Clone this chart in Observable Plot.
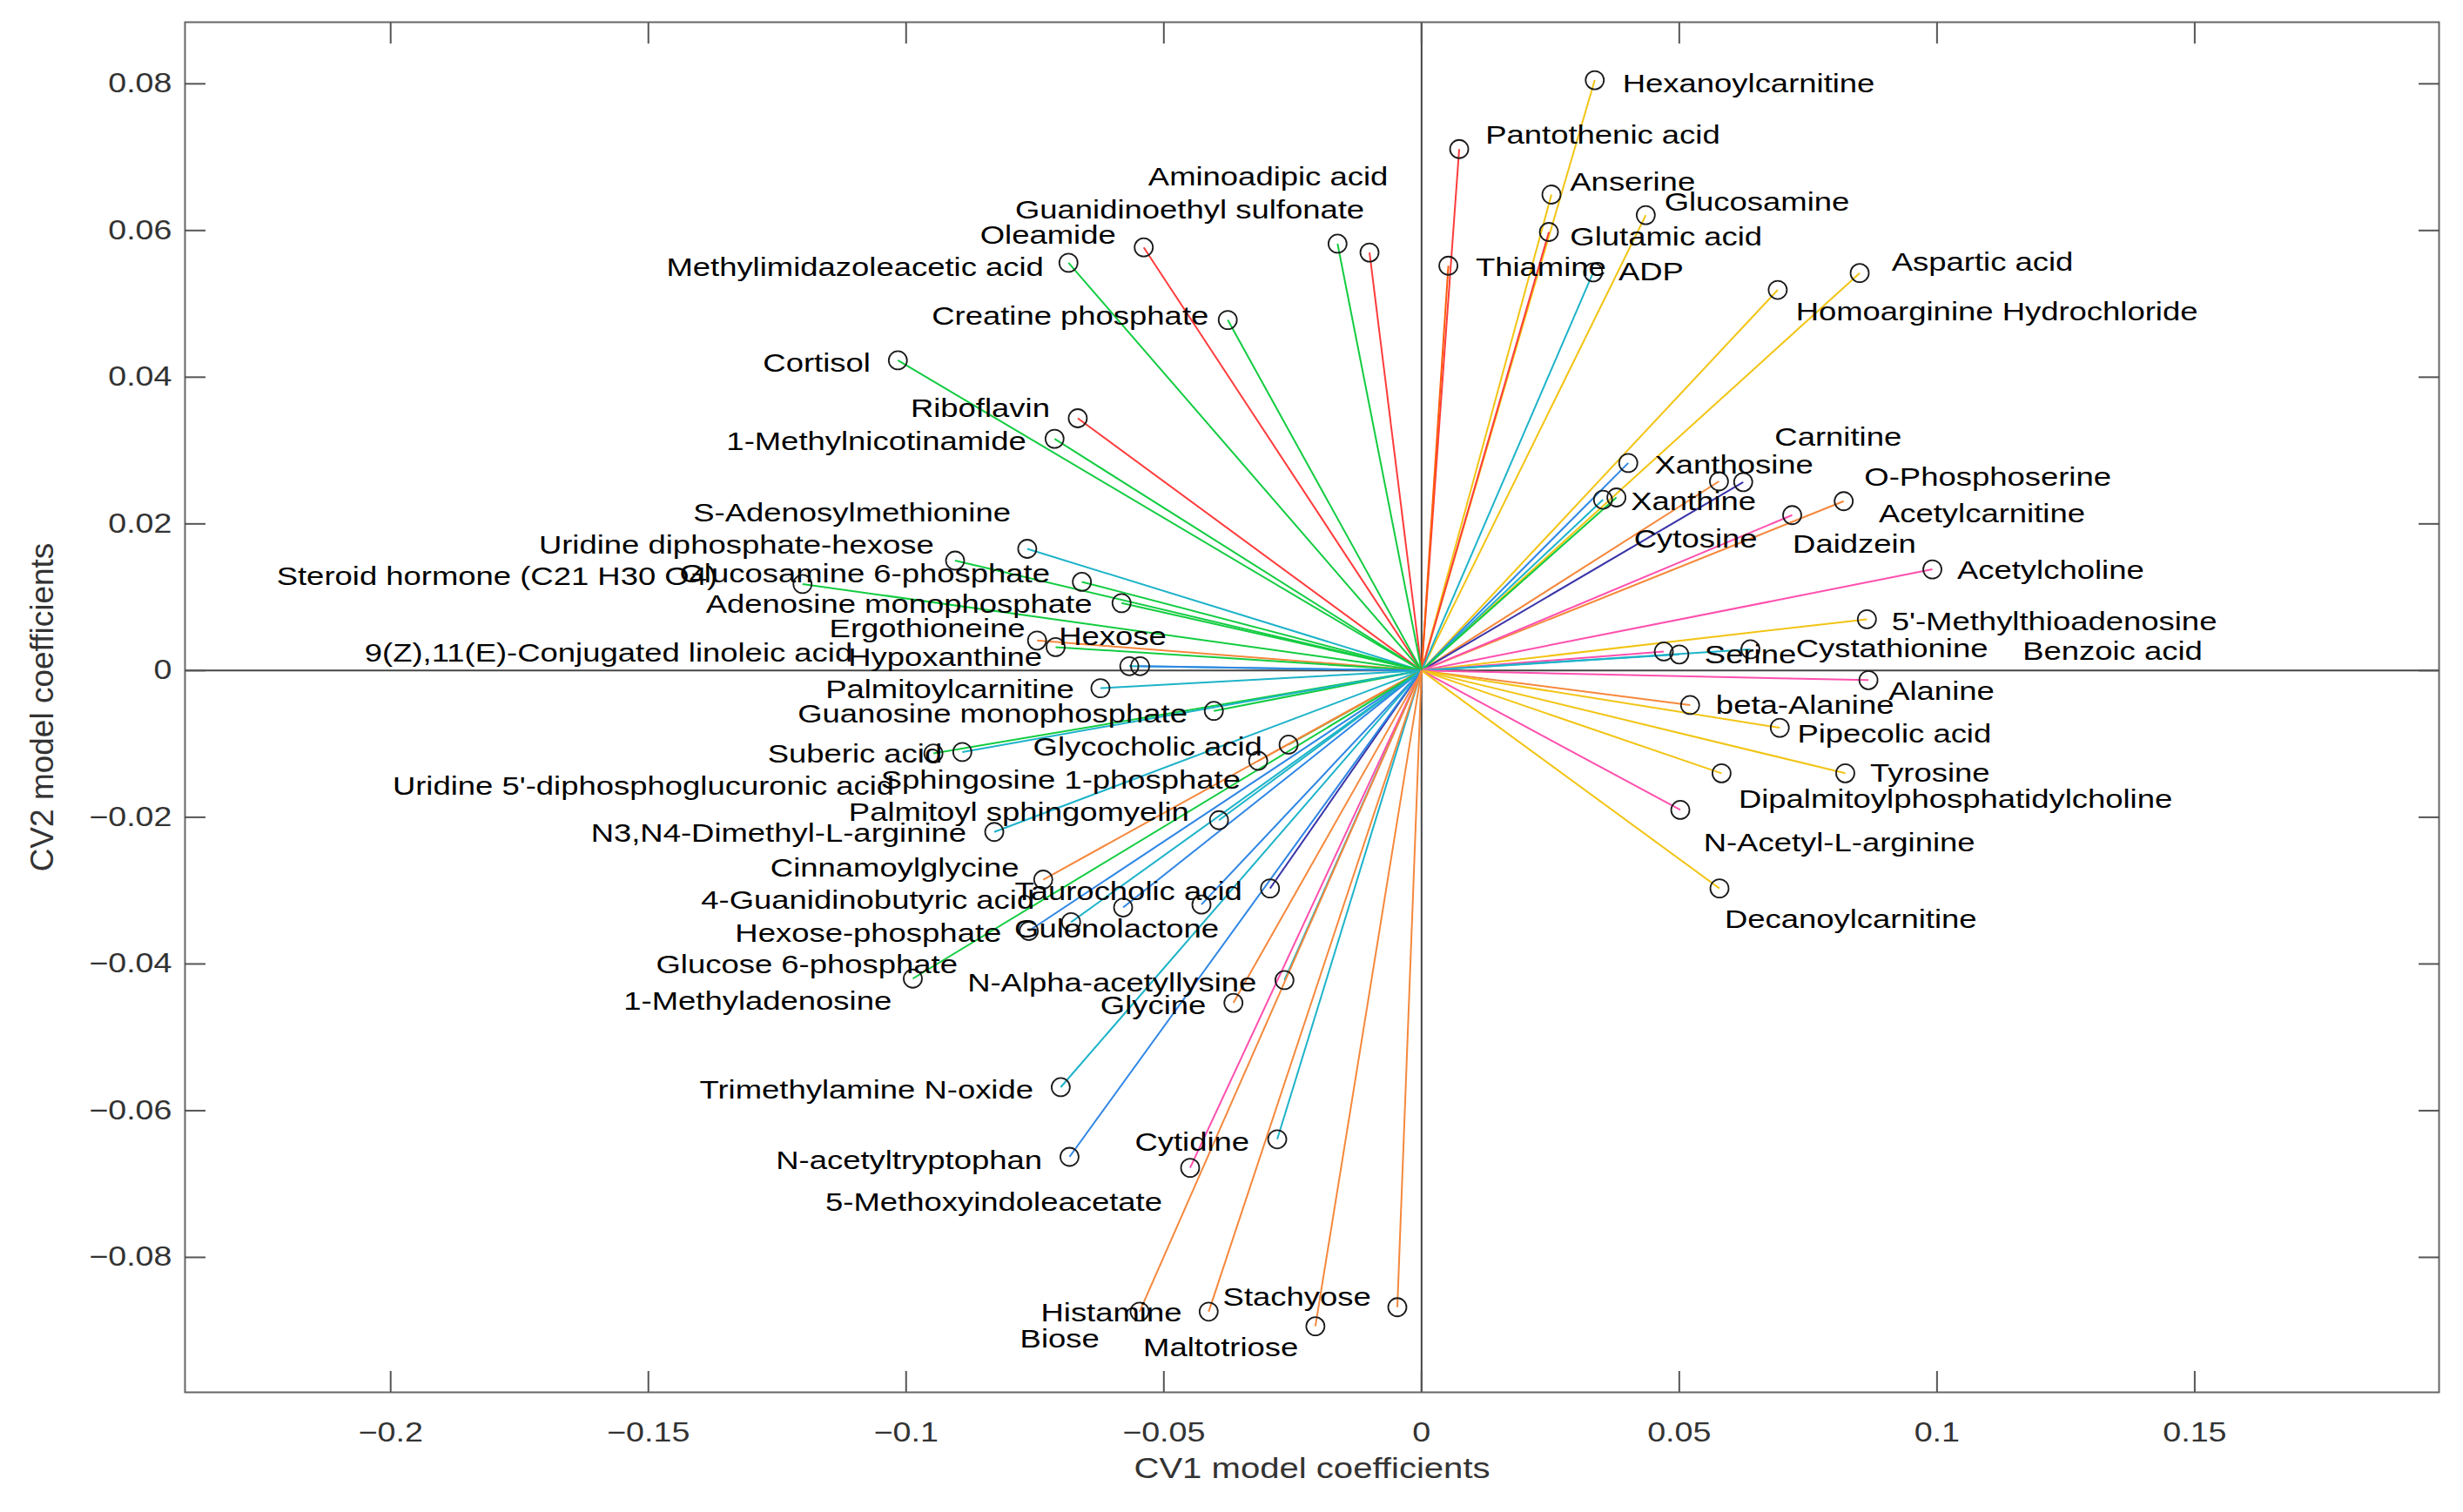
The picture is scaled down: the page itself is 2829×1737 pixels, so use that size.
<!DOCTYPE html>
<html>
<head>
<meta charset="utf-8">
<script src="https://cdn.jsdelivr.net/npm/d3@7"></script>
<script src="https://cdn.jsdelivr.net/npm/@observablehq/plot@0.6"></script>
<style>
  html, body { margin: 0; padding: 0; background: #ffffff; }
  #chart svg { display: block; }
</style>
</head>
<body>
<div id="chart"></div>
<script>
// ---- data ----
const names = [
  "Hexanoylcarnitine", "Pantothenic acid", "Anserine", "Glucosamine", "Glutamic acid",
  "Thiamine", "ADP", "Aspartic acid", "Homoarginine Hydrochloride", "Xanthosine",
  "Carnitine", "O-Phosphoserine", "Xanthine", "Cytosine", "Acetylcarnitine",
  "Daidzein", "Acetylcholine", "5'-Methylthioadenosine", "Serine", "Cystathionine",
  "Benzoic acid", "Alanine", "beta-Alanine", "Pipecolic acid", "Tyrosine",
  "Dipalmitoylphosphatidylcholine", "N-Acetyl-L-arginine", "Decanoylcarnitine",
  "Aminoadipic acid", "Guanidinoethyl sulfonate", "Oleamide", "Methylimidazoleacetic acid",
  "Creatine phosphate", "Cortisol", "Riboflavin", "1-Methylnicotinamide",
  "S-Adenosylmethionine", "Uridine diphosphate-hexose", "Steroid hormone (C21 H30 O4)",
  "Glucosamine 6-phosphate", "Adenosine monophosphate", "Ergothioneine", "Hexose",
  "9(Z),11(E)-Conjugated linoleic acid", "Hypoxanthine", "Palmitoylcarnitine",
  "Guanosine monophosphate", "Suberic acid", "Uridine 5'-diphosphoglucuronic acid",
  "Glycocholic acid", "Sphingosine 1-phosphate", "Palmitoyl sphingomyelin",
  "N3,N4-Dimethyl-L-arginine", "Cinnamoylglycine", "4-Guanidinobutyric acid",
  "Taurocholic acid", "Hexose-phosphate", "Gulonolactone", "Glucose 6-phosphate",
  "1-Methyladenosine", "N-Alpha-acetyllysine", "Glycine", "Trimethylamine N-oxide",
  "Cytidine", "N-acetyltryptophan", "5-Methoxyindoleacetate", "Histamine", "Biose",
  "Stachyose", "Maltotriose"
];
const cv1 = [
  0.0336, 0.0073, 0.0252, 0.0435, 0.0247,
  0.0052, 0.0333, 0.0850, 0.0691, 0.0401,
  0.0577, 0.0624, 0.0352, 0.0378, 0.0819,
  0.0719, 0.0991, 0.0864, 0.0470, 0.0500,
  0.0638, 0.0867, 0.0521, 0.0695, 0.0822,
  0.0582, 0.0502, 0.0578,
  -0.0101, -0.0163, -0.0539, -0.0685,
  -0.0376, -0.1016, -0.0667, -0.0712,
  -0.0765, -0.0905, -0.1201,
  -0.0659, -0.0582, -0.0746, -0.0710,
  -0.0567, -0.0546, -0.0623,
  -0.0403, -0.0947, -0.0891,
  -0.0258, -0.0317, -0.0393,
  -0.0829, -0.0734, -0.0579,
  -0.0294, -0.0762, -0.0427, -0.0987,
  -0.0680, -0.0266, -0.0365, -0.0700,
  -0.0280, -0.0683, -0.0449, -0.0413, -0.0547,
  -0.0047, -0.0206
];
const cv2 = [
  0.0805, 0.0711, 0.0649, 0.0621, 0.0598,
  0.0552, 0.0543, 0.0542, 0.0519, 0.0283,
  0.0258, 0.0257, 0.0233, 0.0236, 0.0231,
  0.0212, 0.0138, 0.0070, 0.0026, 0.0022,
  0.0029, -0.0013, -0.0047, -0.0078, -0.0140,
  -0.0140, -0.0190, -0.0297,
  0.0570, 0.0582, 0.0577, 0.0556,
  0.0478, 0.0423, 0.0344, 0.0316,
  0.0166, 0.0150, 0.0118,
  0.0121, 0.0092, 0.0041, 0.0032,
  0.0006, 0.0006, -0.0024,
  -0.0055, -0.0113, -0.0111,
  -0.0101, -0.0123, -0.0204,
  -0.0220, -0.0285, -0.0323,
  -0.0297, -0.0355, -0.0319, -0.0420,
  -0.0343, -0.0422, -0.0453, -0.0568,
  -0.0639, -0.0663, -0.0678, -0.0874, -0.0874,
  -0.0868, -0.0894
];
// label anchor positions, in the same CV units (left edge for CV1 > 0, right edge for CV1 < 0)
const labelCV1 = [
  0.0390, 0.0124, 0.0288, 0.0471, 0.0288,
  0.0105, 0.0382, 0.0912, 0.0726, 0.0452,
  0.0685, 0.0859, 0.0406, 0.0412, 0.0887,
  0.0720, 0.1039, 0.0912, 0.0549, 0.0726,
  0.1166, 0.0906, 0.0571, 0.0729, 0.0870,
  0.0615, 0.0547, 0.0588,
  -0.0065, -0.0111, -0.0593, -0.0733,
  -0.0413, -0.1069, -0.0721, -0.0767,
  -0.0797, -0.0946, -0.1366,
  -0.0721, -0.0639, -0.0769, -0.0495,
  -0.1104, -0.0736, -0.0674,
  -0.0454, -0.0930, -0.1023,
  -0.0309, -0.0351, -0.0451,
  -0.0883, -0.0781, -0.0751,
  -0.0348, -0.0815, -0.0393, -0.0900,
  -0.1028, -0.0320, -0.0418, -0.0753,
  -0.0334, -0.0736, -0.0503, -0.0465, -0.0625,
  -0.0098, -0.0239
];
const labelCV2 = [
  0.0800, 0.0730, 0.0666, 0.0639, 0.0591,
  0.0550, 0.0544, 0.0557, 0.0489, 0.0280,
  0.0318, 0.0264, 0.0230, 0.0179, 0.0214,
  0.0172, 0.0136, 0.0067, 0.0021, 0.0030,
  0.0026, -0.0029, -0.0047, -0.0087, -0.0140,
  -0.0176, -0.0235, -0.0339,
  0.0673, 0.0628, 0.0593, 0.0549,
  0.0483, 0.0419, 0.0357, 0.0312,
  0.0215, 0.0171, 0.0128,
  0.0132, 0.0090, 0.0057, 0.0046,
  0.0024, 0.0018, -0.0026,
  -0.0059, -0.0114, -0.0158,
  -0.0105, -0.0149, -0.0194,
  -0.0222, -0.0270, -0.0313,
  -0.0301, -0.0358, -0.0353, -0.0401,
  -0.0451, -0.0426, -0.0457, -0.0572,
  -0.0643, -0.0668, -0.0725, -0.0876, -0.0911,
  -0.0854, -0.0923
];
const lineGroup = [
  "yellow", "red", "yellow", "yellow", "red",
  "vermilion", "teal", "yellow", "yellow", "blue",
  "orange", "navy", "teal", "green", "orange",
  "pink", "pink", "yellow", "pink", "teal",
  "teal", "pink", "orange", "yellow", "yellow",
  "yellow", "pink", "yellow",
  "red", "green", "red", "green",
  "green", "green", "red", "green",
  "teal", "green", "green",
  "green", "green", "orange", "green",
  "teal", "blue", "teal",
  "green", "green", "teal",
  "green", "orange", "teal",
  "teal", "orange", "blue",
  "navy", "blue", "blue", "green",
  "teal", "teal", "orange", "teal",
  "teal", "blue", "pink", "orange", "orange",
  "orange", "orange"
];
const groupNames  = ["yellow", "red", "vermilion", "teal", "blue", "navy", "orange", "pink", "green"];
const groupColors = ["#f2c414", "#ff3c3c", "#ff5a0a", "#1db3c9", "#2f86e4", "#3a34a8", "#f5883c", "#ff4fae", "#12cc40"];
const xTicks = [-0.2, -0.15, -0.1, -0.05, 0, 0.05, 0.1, 0.15];
const yTicks = [-0.08, -0.06, -0.04, -0.02, 0, 0.02, 0.04, 0.06, 0.08];
const xTitle = "CV1 model coefficients";
const yTitle = "CV2 model coefficients";

// ---- build table ----
const rows = names.map((name, i) => ({
  name, x: cv1[i], y: cv2[i], lx: labelCV1[i], ly: labelCV2[i], group: lineGroup[i]
}));
const fmt = d => (d < 0 ? "\u2212" : "") + String(+Math.abs(d).toFixed(2));
const FONT = "'Liberation Sans', Arial, Helvetica, sans-serif";

const chart = Plot.plot({
  width: 2829,
  height: 1737,
  marginLeft: 212,
  marginRight: 28,
  marginTop: 25,
  marginBottom: 138,
  style: { fontFamily: FONT, background: "#ffffff", color: "#333" },
  x: { domain: [-0.2399, 0.1974] },
  y: { domain: [-0.0984, 0.0884] },
  color: { type: "ordinal", domain: groupNames, range: groupColors },
  marks: [
    Plot.ruleY([0], { stroke: "#444", strokeWidth: 2 }),
    Plot.ruleX([0], { stroke: "#444", strokeWidth: 2 }),
    Plot.link(rows, { x1: d => 0, y1: d => 0, x2: "x", y2: "y", stroke: "group", strokeWidth: 2 }),
    Plot.dot(rows, { x: "x", y: "y", r: 10.5, stroke: "#1a1a1a", strokeWidth: 1.8, fill: "none" }),
    Plot.text(rows, { filter: d => d.x >= 0, x: "lx", y: "ly", text: "name", textAnchor: "start",
      lineAnchor: "middle", fontSize: 30, fill: "#000" }),
    Plot.text(rows, { filter: d => d.x < 0, x: "lx", y: "ly", text: "name", textAnchor: "end",
      lineAnchor: "middle", fontSize: 30, fill: "#000" }),
    Plot.frame({ stroke: "#666", strokeWidth: 2 }),
    // inward tick marks on all four sides
    Plot.axisX(xTicks, { anchor: "bottom", tickSize: 24, dy: -24, fill: "none", label: null, stroke: "#555", strokeWidth: 2 }),
    Plot.axisX(xTicks, { anchor: "top", tickSize: 24, dy: 24, fill: "none", label: null, stroke: "#555", strokeWidth: 2 }),
    Plot.axisY(yTicks, { anchor: "left", tickSize: 24, dx: 24, fill: "none", label: null, stroke: "#555", strokeWidth: 2 }),
    Plot.axisY(yTicks, { anchor: "right", tickSize: 24, dx: -24, fill: "none", label: null, stroke: "#555", strokeWidth: 2 }),
    // tick labels
    Plot.axisX(xTicks, { anchor: "bottom", tickSize: 0, tickPadding: 34, tickFormat: fmt, label: null, fontSize: 31, fill: "#333" }),
    Plot.axisY(yTicks, { anchor: "left", tickSize: 0, tickPadding: 15, tickFormat: fmt, label: null, fontSize: 31, fill: "#333" }),
    // axis titles
    Plot.text([xTitle], { frameAnchor: "bottom", dy: 88, text: d => d, textAnchor: "middle", lineAnchor: "middle",
      fontSize: 33, fill: "#333" }),
    Plot.text([yTitle], { frameAnchor: "left", dx: -163, rotate: -90, text: d => d, textAnchor: "middle",
      lineAnchor: "middle", fontSize: 37, fill: "#333" })
  ]
});

// The reference picture is horizontally stretched: widen every horizontal text to match.
chart.querySelectorAll("text").forEach(t => {
  const tr = t.getAttribute("transform") || "";
  if (tr.includes("rotate")) return;
  const sx = 1.215;
  if (tr) {
    t.setAttribute("transform", tr + ` scale(${sx},1)`);
  } else {
    const x = +(t.getAttribute("x") || 0), y = +(t.getAttribute("y") || 0);
    t.setAttribute("transform", `translate(${x},${y}) scale(${sx},1) translate(${-x},${-y})`);
  }
});

document.getElementById("chart").appendChild(chart);
</script>
</body>
</html>
